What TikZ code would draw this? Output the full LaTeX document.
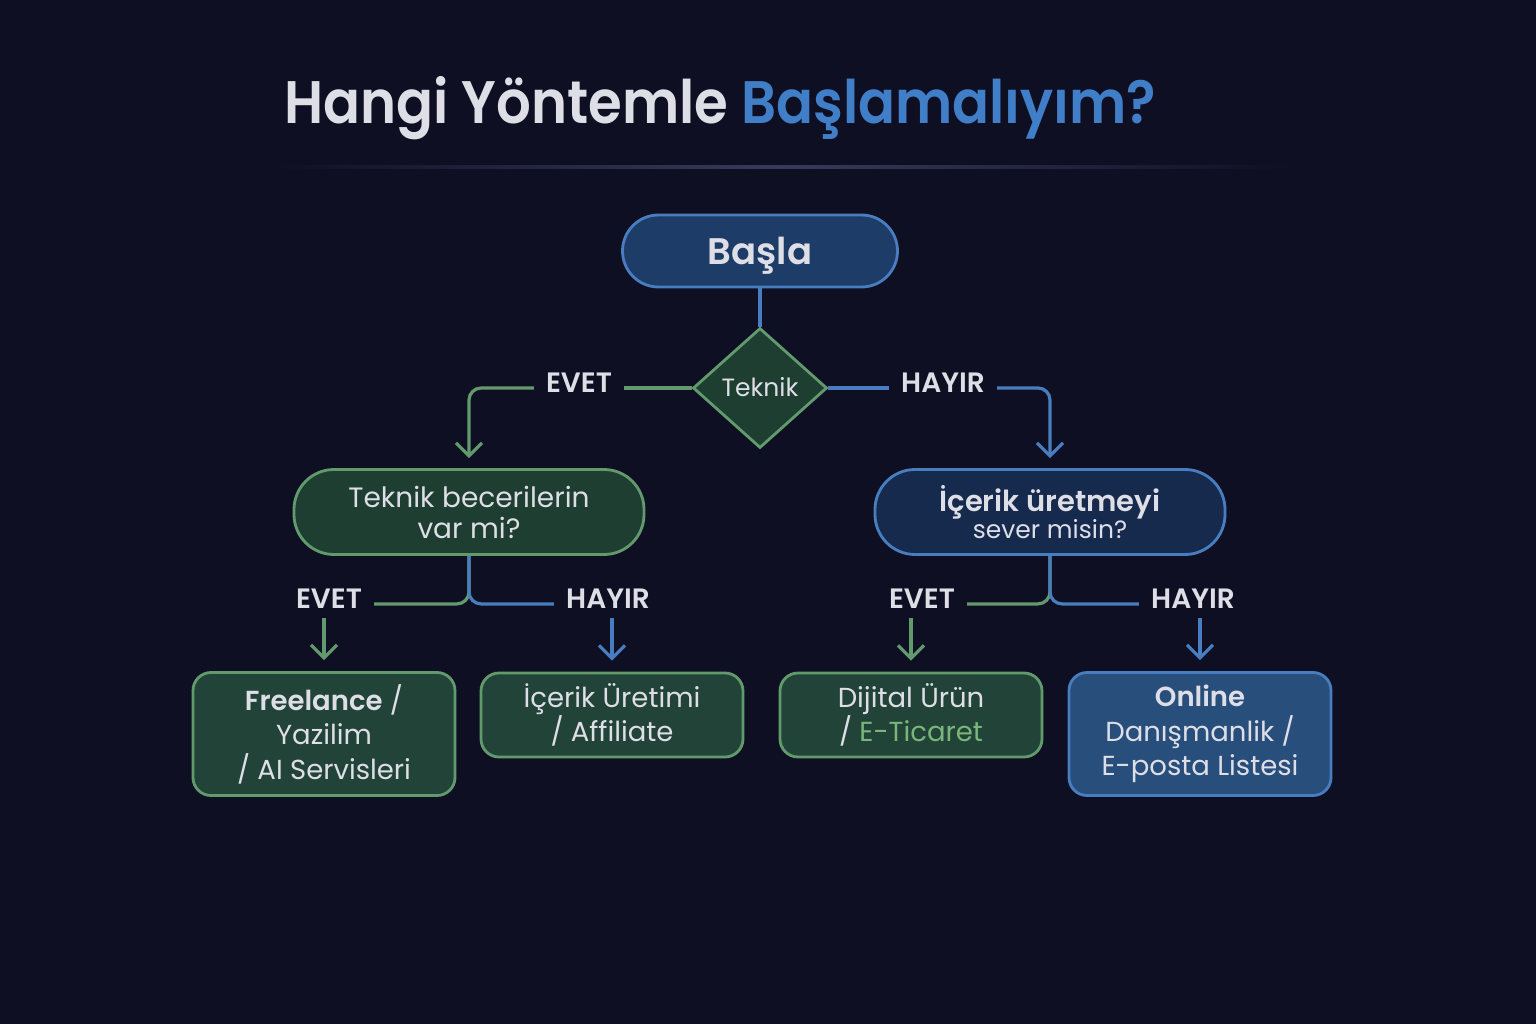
\documentclass[tikz,border=0pt]{standalone}
\usepackage{fontspec}
\setmainfont{Poppins}[BoldFont={Poppins SemiBold}]
\usetikzlibrary{shapes,shapes.geometric,arrows.meta,calc}
\definecolor{bg}{RGB}{15,15,35}
\definecolor{txt}{RGB}{222,223,230}
\definecolor{bline}{RGB}{72,126,192}
\definecolor{gline}{RGB}{98,154,110}
\definecolor{bfill}{RGB}{30,60,104}
\definecolor{bdark}{RGB}{22,42,78}
\definecolor{bleaf}{RGB}{40,78,124}
\definecolor{gfill}{RGB}{30,62,50}
\definecolor{gleaf}{RGB}{34,68,56}
\definecolor{ttlblue}{RGB}{64,126,200}
\definecolor{gtxt}{RGB}{122,182,124}
\definecolor{sep}{RGB}{56,58,92}
\tikzset{
  x=1pt, y=-1pt,
  basenode/.style = {align=center, inner sep=0pt, text=txt, line width=2.8pt},
  pill_b/.style = {basenode, draw=bline, fill=bfill, rounded corners=36pt, text depth=0pt,
    minimum width=275pt, minimum height=72pt, font=\fontsize{37}{40}\selectfont\bfseries},
  pill_q/.style = {basenode, rounded corners=40pt, minimum width=350pt, minimum height=85pt},
  dia_g/.style = {basenode, diamond, draw=gline, fill=gfill, aspect=1.12,
    minimum width=134pt, minimum height=120pt, font=\fontsize{25}{26}\selectfont},
  leaf/.style = {basenode, rounded corners=18pt, minimum width=262pt,
    font=\fontsize{27.5}{34.5}\selectfont},
  leaf_g/.style = {leaf, draw=gline, fill=gleaf},
  leaf_b/.style = {leaf, draw=bline, fill=bleaf},
  lbl/.style = {text=txt, inner xsep=12pt, inner ysep=0pt, font=\fontsize{28}{28}\selectfont\bfseries},
  g_ln/.style = {draw=gline, line width=3.2pt, rounded corners=12pt},
  b_ln/.style = {draw=bline, line width=3.2pt, rounded corners=12pt},
  tip/.style = {-{Straight Barb[length=13pt,width=26pt,line width=3.2pt]}}
}
\begin{document}
\begin{tikzpicture}
\fill[bg] (0,0) rectangle (1536,1024);
\useasboundingbox (0,0) rectangle (1536,1024);

% title
\node[text=txt, font=\fontsize{60}{64}\selectfont\bfseries] (title) at (720,108)
  {\scalebox{0.91}[1]{Hangi Yöntemle \textcolor{ttlblue}{Başlamalıyım?}}};
\shade[left color=bg, right color=sep] (270,165.5) rectangle (780,168.5);
\shade[left color=sep, right color=bg] (780,165.5) rectangle (1290,168.5);

% start and first decision
\node[pill_b] (basla) at (760,251) {Başla};
\node[dia_g] (teknik) at (760,388) {\raisebox{3pt}{Teknik}};
\node[lbl] (evet1) at (579,383) {EVET};
\node[lbl] (hayir1) at (943,383) {HAYIR};

% second level
\node[pill_q, draw=gline, fill=gfill, font=\fontsize{28}{31}\selectfont] (q1) at (469,512)
  {Teknik becerilerin\\var mi?};
\node[pill_q, draw=bline, fill=bdark] (q2) at (1050,512)
  {{\fontsize{29}{32}\selectfont\bfseries İçerik üretmeyi}\\[0pt]{\fontsize{25}{28}\selectfont sever misin?}};

\node[lbl] (evet2) at (329,599) {EVET};
\node[lbl] (hayir2) at (608,599) {HAYIR};
\node[lbl] (evet3) at (922,599) {EVET};
\node[lbl] (hayir3) at (1193,599) {HAYIR};

% results
\node[leaf_g, minimum height=123pt] (f1) at (324,734)
  {\textbf{Freelance} /\\Yazilim\\/ AI Servisleri};
\node[leaf_g, minimum height=84pt] (f2) at (612,715)
  {İçerik Üretimi\\/ Affiliate};
\node[leaf_g, minimum height=84pt] (f3) at (911,715)
  {Dijital Ürün\\/ \textcolor{gtxt}{E-Ticaret}};
\node[leaf_b, minimum height=123pt] (f4) at (1200,734)
  {\textbf{Online}\\Danışmanlik /\\E-posta Listesi};

% connectors
\draw[b_ln] (basla.south) -- (teknik.north);
\draw[g_ln] (teknik.west) -- (teknik.west -| evet1.east);
\draw[g_ln, tip, shorten >=10pt] (evet1.west |- teknik.west) -| (q1.north);
\draw[b_ln] (teknik.east) -- (teknik.east -| hayir1.west);
\draw[b_ln, tip, shorten >=10pt] (hayir1.east |- teknik.east) -| (q2.north);

\coordinate (s1) at ($(q1.south)+(0,48)$);
\draw[g_ln] (q1.south) -- (s1) -- (s1 -| evet2.east);
\draw[b_ln] (q1.south) -- (s1) -- (s1 -| hayir2.west);
\coordinate (s2) at ($(q2.south)+(0,48)$);
\draw[g_ln] (q2.south) -- (s2) -- (s2 -| evet3.east);
\draw[b_ln] (q2.south) -- (s2) -- (s2 -| hayir3.west);

\draw[g_ln, tip, shorten <=9pt, shorten >=11pt] (evet2.south -| f1.north) -- (f1.north);
\draw[b_ln, tip, shorten <=9pt, shorten >=11pt] (hayir2.south -| f2.north) -- (f2.north);
\draw[g_ln, tip, shorten <=9pt, shorten >=11pt] (evet3.south -| f3.north) -- (f3.north);
\draw[b_ln, tip, shorten <=9pt, shorten >=11pt] (hayir3.south -| f4.north) -- (f4.north);
\end{tikzpicture}
\end{document}
